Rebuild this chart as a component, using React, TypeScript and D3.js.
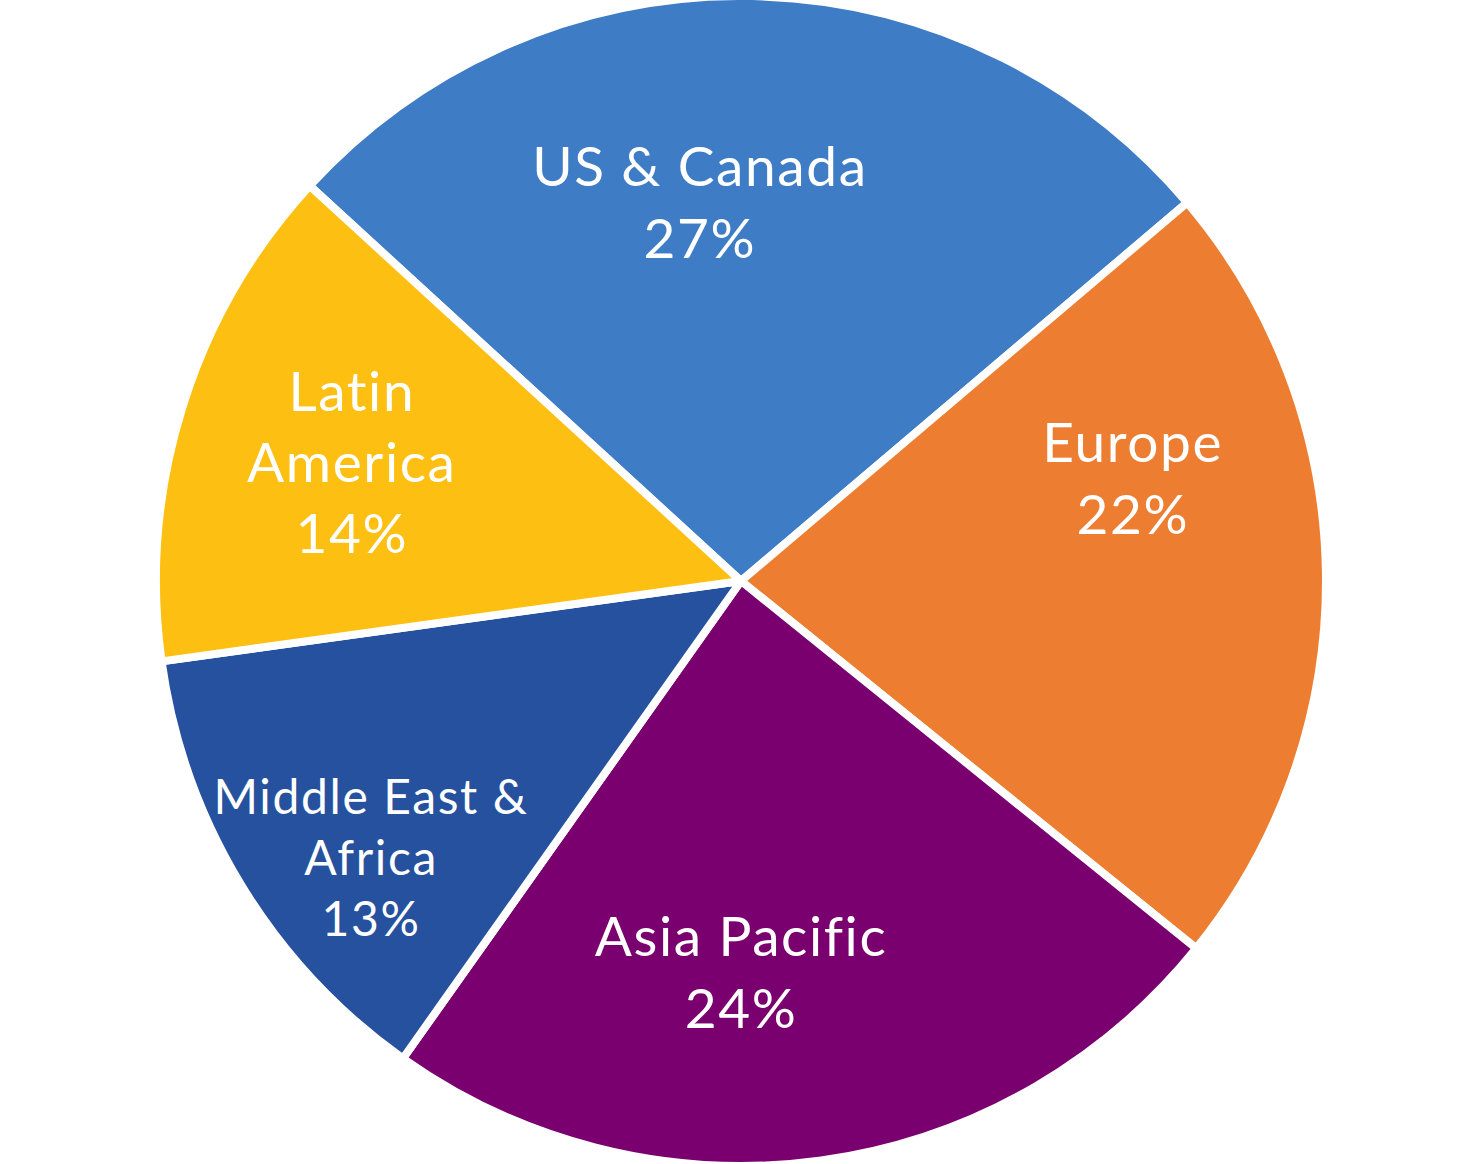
import { useEffect, useRef } from 'react';
import * as d3 from 'd3';

// Chart data
const regions = ['US & Canada', 'Europe', 'Asia Pacific', 'Middle East & Africa', 'Latin America'];
const shares = [27, 22, 24, 13, 14];
const colors = ['#3E7CC6', '#ED7D31', '#7A006F', '#25519E', '#FDBF12'];

// Label lines as they wrap in the picture
const labelLines = [
    ['US & Canada', '27%'],
    ['Europe', '22%'],
    ['Asia Pacific', '24%'],
    ['Middle East &', 'Africa', '13%'],
    ['Latin', 'America', '14%'],
];

// Label placement (polar, degrees clockwise from north) and font sizes
const labelAngle = [-6.2, 75.3, 180, 233.2, 287];
const labelRadius = [381, 405, 391, 462, 407];
const labelSize = [55, 55, 55, 48, 55];
const labelLeading = [72, 72, 72, 61, 71];

interface Slice {
    name: string;
    value: number;
    index: number;
}

const WIDTH = 1482;
const HEIGHT = 1164;

export default function App() {
    const ref = useRef<SVGSVGElement>(null);

    useEffect(() => {
        document.body.style.margin = '0';
        if (!ref.current) return;
        const svg = d3.select(ref.current);
        svg.selectAll('*').remove();

        const cx = 741;
        const cy = 581;
        const radius = 585;
        const start = (-47.5 * Math.PI) / 180;

        const data: Slice[] = regions.map((name, i) => ({ name, value: shares[i], index: i }));

        const pie = d3.pie<Slice>()
            .sort(null)
            .value(d => d.value)
            .startAngle(start)
            .endAngle(start + 2 * Math.PI);

        const arc = d3.arc<d3.PieArcDatum<Slice>>()
            .innerRadius(0)
            .outerRadius(radius);

        const g = svg.append('g').attr('transform', `translate(${cx},${cy})`);

        g.append('g')
            .attr('stroke', 'white')
            .attr('stroke-width', 8)
            .attr('stroke-linejoin', 'round')
            .selectAll('path')
            .data(pie(data))
            .join('path')
            .attr('fill', d => colors[d.data.index])
            .attr('d', arc);

        // Labels
        const labelArc = d3.arc<any>();
        const labels = g.append('g')
            .attr('text-anchor', 'middle')
            .attr('fill', 'white')
            .attr('font-weight', 400)
            .attr('letter-spacing', 1.6)
            .style('font-family', 'Lato, "Noto Sans", sans-serif');

        data.forEach((d, i) => {
            const a = (labelAngle[i] * Math.PI) / 180;
            const [x, y] = labelArc.centroid({
                innerRadius: labelRadius[i],
                outerRadius: labelRadius[i],
                startAngle: a,
                endAngle: a,
            });
            const lines = labelLines[i];
            const lead = labelLeading[i];
            const size = labelSize[i];
            const text = labels.append('text')
                .attr('font-size', size)
                .attr('transform', `translate(${x},${y})`);
            lines.forEach((line, k) => {
                const offset = (k - (lines.length - 1) / 2) * lead + size * 0.36;
                text.append('tspan')
                    .attr('x', 0)
                    .attr('y', offset)
                    .text(line);
            });
        });
    }, []);

    return (
        <svg
            ref={ref}
            width={WIDTH}
            height={HEIGHT}
            style={{ display: 'block', background: 'white' }}
        />
    );
}
